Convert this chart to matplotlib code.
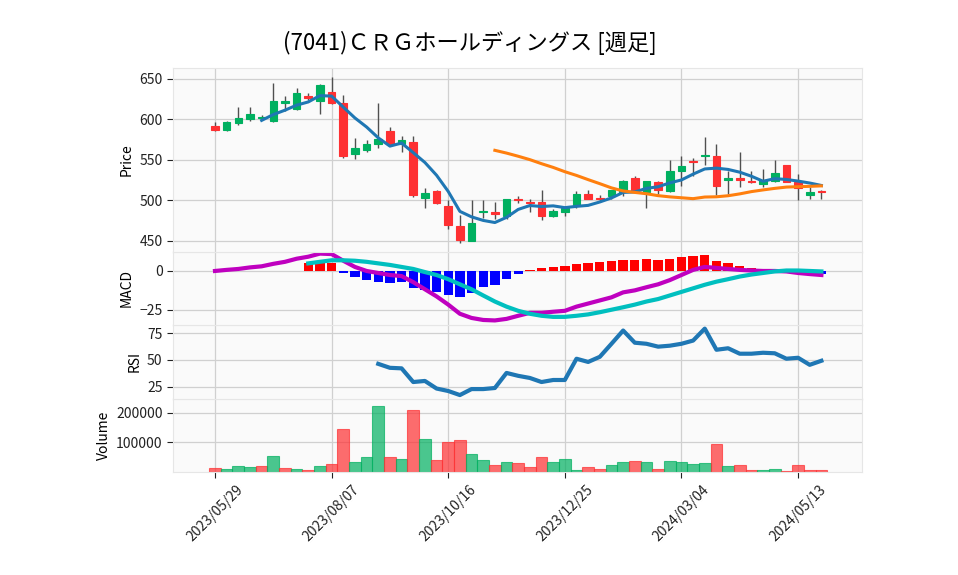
import numpy as np
import pandas as pd
import matplotlib.pyplot as plt

plt.rcParams['font.family'] = ['Noto Sans CJK JP', 'DejaVu Sans']

nan = np.nan

# weekly bars, 2023/05/29 .. 2024/05/27
dates = pd.date_range('2023-05-29', periods=53, freq='7D')

opens = [592, 587, 595, 600, 601, 598, 620, 613, 629, 623, 634, 620, 557, 562, 569, 585, 569, 572,
         503, 511, 493, 468, 449, 485, 485, 481, 502, 498, 498, 481, 486, 494, 508, 503, 505, 510,
         528, 510, 522, 511, 536, 548, 555, 554, 525, 527, 524, 520, 524, 543, 523, 506, 511]
highs = [597, 598, 615, 615, 605, 645, 629, 639, 632, 643, 652, 630, 577, 574, 620, 590, 579, 579,
         515, 513, 500, 482, 500, 500, 498, 502, 505, 502, 513, 489, 493, 511, 512, 506, 513, 525,
         530, 524, 524, 550, 555, 552, 578, 569, 536, 560, 536, 538, 550, 544, 532, 516, 513]
lows = [585, 586, 593, 598, 599, 597, 610, 612, 624, 606, 619, 552, 551, 560, 564, 568, 560, 504,
        490, 495, 465, 447, 449, 478, 477, 477, 497, 485, 475, 479, 480, 490, 501, 498, 502, 505,
        510, 490, 508, 510, 518, 530, 544, 506, 508, 516, 521, 516, 523, 522, 500, 502, 502]
closes = [587, 596, 601, 606, 603, 623, 623, 632, 626, 642, 620, 555, 565, 570, 575, 569, 574, 506,
          509, 496, 469, 451, 472, 487, 483, 501, 500, 496, 481, 487, 490, 508, 502, 502, 512, 524,
          511, 524, 512, 536, 542, 547, 556, 517, 528, 525, 522, 525, 533, 523, 515, 510, 510]
volume = [12300, 9000, 19000, 15600, 19000, 55600, 12300, 9000, 5600, 19000, 25600, 145600,
          33300, 52300, 222300, 49000, 42300, 209000, 112300, 39000, 102300, 109000, 60000,
          40000, 22300, 33300, 30000, 16700, 50000, 33300, 43300, 6700, 16700, 10000, 23300,
          33300, 36700, 33300, 10000, 36700, 33300, 26700, 30000, 93300, 20000, 22300, 6700,
          6700, 10000, 3300, 22300, 6700, 6700]

ma5 = [nan, nan, nan, nan, 598.6, 605.8, 611.2, 617.4, 621.4, 629.2, 628.6, 615.0, 601.6, 590.4,
       577.0, 566.8, 570.6, 558.8, 546.6, 530.8, 510.8, 486.2, 479.4, 475.0, 472.4, 478.8, 488.6,
       493.4, 492.2, 493.0, 490.8, 492.4, 493.6, 497.8, 502.8, 509.6, 510.2, 514.6, 516.6, 521.4,
       525.0, 532.2, 538.6, 539.6, 538.0, 534.6, 529.6, 523.4, 526.6, 525.6, 523.6, 521.2, 518.2]
ma25 = [nan] * 24 + [561.6, 558.2, 554.3, 550.1, 545.1, 540.5, 535.2, 530.6, 525.4, 520.4, 515.2,
                     511.4, 509.6, 508.0, 505.6, 504.1, 503.0, 501.9, 503.9, 504.2, 505.5, 507.8,
                     510.6, 512.7, 514.6, 516.2, 516.7, 517.1, 517.7]

macd = [0.0, 0.7, 1.3, 2.3, 3.0, 4.6, 5.9, 7.9, 9.2, 11.2, 10.9, 6.6, 2.6, 0.0, -1.3, -2.6, -3.3,
        -7.2, -11.8, -16.4, -21.7, -27.6, -30.3, -31.6, -31.9, -30.9, -28.9, -27.0, -27.0, -26.3,
        -25.7, -23.0, -21.0, -19.0, -17.0, -13.8, -12.5, -10.5, -8.6, -5.9, -2.6, 0.7, 2.6, 2.0,
        1.3, 0.7, 0.3, 0.0, 0.0, -0.3, -1.3, -2.0, -2.6]
signal = [nan] * 8 + [4.9, 5.9, 6.9, 6.9, 6.6, 5.9, 4.9, 3.9, 2.6, 1.3, -0.7, -2.6, -5.3, -8.6,
                      -11.8, -15.8, -19.7, -23.0, -25.7, -27.6, -28.9, -29.6, -29.6, -28.9, -28.0,
                      -26.6, -25.0, -23.4, -21.7, -19.7, -18.1, -15.8, -13.5, -11.2, -8.9, -6.9,
                      -5.3, -3.6, -2.3, -1.3, -0.3, 0.3, 0.3, 0.0, -0.3]
hist = [nan] * 8 + [5.0, 5.3, 5.0, -1.0, -4.0, -6.0, -7.2, -7.9, -7.2, -11.2, -12.5, -13.8, -15.8,
                    -17.1, -14.5, -10.5, -9.2, -5.3, -2.0, 0.7, 2.0, 2.6, 3.3, 4.6, 5.3, 5.9, 6.3,
                    7.2, 7.2, 7.6, 7.2, 7.9, 8.9, 9.9, 10.2, 6.6, 5.3, 3.3, 2.0, 1.0, 0.7, 0.3, 0.0,
                    -0.3, -2.0]
rsi = [nan] * 14 + [46.2, 42.5, 42.0, 29.2, 30.2, 23.1, 20.8, 17.0, 22.6, 22.6, 23.6, 37.7, 35.0,
                    33.0, 29.2, 31.1, 31.1, 51.0, 48.0, 52.8, 65.0, 77.4, 66.0, 65.0, 62.3, 63.2,
                    65.0, 68.0, 79.2, 59.4, 60.8, 55.7, 55.7, 56.6, 56.1, 51.0, 51.9, 45.3, 49.1]

title = '(7041)ＣＲＧホールディングス [週足]'

up_c, down_c = '#00b060', '#fe3032'
wick_c = '#505050'
grid_c = '#d0d0d0'
face_c = '#fafafa'

x = np.arange(len(closes))
o, h, l, c = map(np.array, (opens, highs, lows, closes))

fig = plt.figure(figsize=(9.58, 5.75), dpi=100)
left, width = 0.1806, 0.7194
bottom = 0.179
unit = (0.882 - bottom) / 11
ax_v = fig.add_axes([left, bottom, width, 2 * unit])
ax_r = fig.add_axes([left, bottom + 2 * unit, width, 2 * unit], sharex=ax_v)
ax_m = fig.add_axes([left, bottom + 4 * unit, width, 2 * unit], sharex=ax_v)
ax_p = fig.add_axes([left, bottom + 6 * unit, width, 5 * unit], sharex=ax_v)

for ax in (ax_p, ax_m, ax_r, ax_v):
    ax.set_facecolor(face_c)
    ax.grid(True, color=grid_c, lw=0.9)
    ax.set_axisbelow(True)
    for s in ax.spines.values():
        s.set_color('#e6e6e6')
    ax.tick_params(axis='y', labelsize=10, length=4, colors='#222222')
for ax in (ax_p, ax_m, ax_r):
    ax.tick_params(axis='x', bottom=False, labelbottom=False)

# candles
cols = np.where(c >= o, up_c, down_c)
ax_p.vlines(x, l, h, color=wick_c, lw=1, zorder=2)
ax_p.bar(x, np.maximum(np.abs(c - o), 0.6), bottom=np.minimum(o, c), width=0.65,
         color=cols, edgecolor=cols, lw=0.8, zorder=3)
ax_p.plot(x, ma5, color='#1f77b4', lw=2.2, zorder=4)
ax_p.plot(x, ma25, color='#ff7f0e', lw=2.2, zorder=4)
ax_p.set_ylim(436.5, 663.5)
ax_p.set_yticks([450, 500, 550, 600, 650])
ax_p.set_ylabel('Price', fontsize=10)

# macd
hv = np.array(hist)
ax_m.bar(x, hv, width=0.8, color=np.where(hv >= 0, '#ff0000', '#0000ff'), zorder=2)
ax_m.plot(x, macd, color='#bf00bf', lw=3, zorder=3)
ax_m.plot(x, signal, color='#00bfbf', lw=3, zorder=3)
ax_m.set_ylim(-34.9, 12.5)
ax_m.set_yticks([-25, 0])
ax_m.set_ylabel('MACD', fontsize=10)

# rsi
ax_r.plot(x, rsi, color='#1f77b4', lw=3)
ax_r.set_ylim(13.7, 82.5)
ax_r.set_yticks([25, 50, 75])
ax_r.set_ylabel('RSI', fontsize=10)

# volume, coloured against previous close
vup = [i > 0 and closes[i] > closes[i - 1] for i in range(len(closes))]
vcol = [up_c if u else down_c for u in vup]
ax_v.bar(x, volume, width=1.0, color=vcol, alpha=0.7, edgecolor=vcol, lw=0.8)
ax_v.set_ylim(0, 247000)
ax_v.set_yticks([100000, 200000])
ax_v.set_yticklabels(['100000', '200000'])
ax_v.set_ylabel('Volume', fontsize=10)

ticks = list(range(0, len(x), 10))
ax_v.set_xticks(ticks)
ax_v.set_xticklabels([dates[i].strftime('%Y/%m/%d') for i in ticks], rotation=45,
                     ha='center', fontsize=10)
ax_v.tick_params(axis='x', length=4, colors='#222222')
ax_v.set_xlim(-3.6, 55.5)

fig.text(0.49, 0.925, title, ha='center', va='center', fontsize=16)

fig.savefig('out.png', dpi=100)
